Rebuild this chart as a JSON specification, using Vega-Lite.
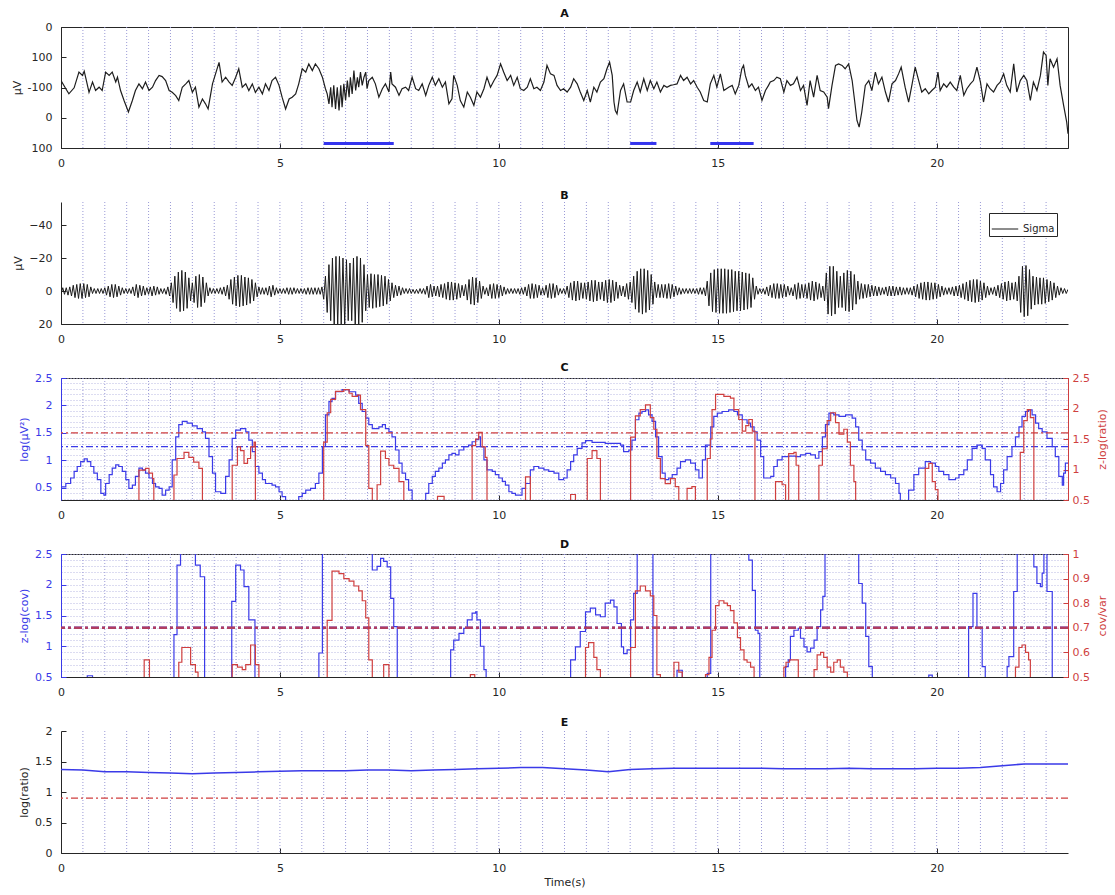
{
"$schema":"https://vega.github.io/schema/vega-lite/v6.json",
"background":"white",
"padding":{"left":10,"top":7,"right":3,"bottom":3},
"spacing":54,
"bounds":"flush",
"resolve":{"legend":{"color":"independent"}},
"config":{
 "font":"DejaVu Sans",
 "view":{"stroke":"#262626","strokeWidth":1},
 "axis":{"labelFont":"DejaVu Sans","labelFontSize":11,"labelColor":"#262626","titleFont":"DejaVu Sans","titleFontSize":11,"titleFontWeight":"normal","titleColor":"#262626","domainColor":"#262626","tickColor":"#262626","tickSize":-5,"labelPadding":14,"labelOverlap":false,"gridColor":"#9a9ad6","gridDash":[1,2],"gridWidth":1,"titlePadding":5},
 "title":{"font":"DejaVu Sans","fontSize":11,"fontWeight":"bold","color":"#111111","offset":0}
},
"datasets":{
"vg":[{"t":0.5},{"t":1},{"t":1.5},{"t":2},{"t":2.5},{"t":3},{"t":3.5},{"t":4},{"t":4.5},{"t":5},{"t":5.5},{"t":6},{"t":6.5},{"t":7},{"t":7.5},{"t":8},{"t":8.5},{"t":9},{"t":9.5},{"t":10},{"t":10.5},{"t":11},{"t":11.5},{"t":12},{"t":12.5},{"t":13},{"t":13.5},{"t":14},{"t":14.5},{"t":15},{"t":15.5},{"t":16},{"t":16.5},{"t":17},{"t":17.5},{"t":18},{"t":18.5},{"t":19},{"t":19.5},{"t":20},{"t":20.5},{"t":21},{"t":21.5},{"t":22},{"t":22.5}],
"eeg":[{"t":0,"v":23},{"t":0.11,"v":-4},{"t":0.18,"v":-21},{"t":0.3,"v":-1},{"t":0.41,"v":51},{"t":0.49,"v":40},{"t":0.53,"v":54},{"t":0.58,"v":23},{"t":0.64,"v":-16},{"t":0.72,"v":18},{"t":0.79,"v":-10},{"t":0.87,"v":1},{"t":0.94,"v":-10},{"t":1.02,"v":51},{"t":1.1,"v":40},{"t":1.17,"v":51},{"t":1.25,"v":18},{"t":1.29,"v":34},{"t":1.36,"v":-10},{"t":1.44,"v":-43},{"t":1.54,"v":-81},{"t":1.63,"v":-43},{"t":1.7,"v":-10},{"t":1.78,"v":12},{"t":1.86,"v":-4},{"t":1.93,"v":18},{"t":2.01,"v":-10},{"t":2.09,"v":1},{"t":2.16,"v":23},{"t":2.24,"v":40},{"t":2.31,"v":36},{"t":2.39,"v":23},{"t":2.47,"v":-10},{"t":2.54,"v":-16},{"t":2.62,"v":-27},{"t":2.69,"v":-43},{"t":2.77,"v":1},{"t":2.85,"v":12},{"t":2.92,"v":23},{"t":3,"v":-16},{"t":3.07,"v":1},{"t":3.15,"v":-65},{"t":3.23,"v":-38},{"t":3.3,"v":-54},{"t":3.36,"v":-71},{"t":3.46,"v":12},{"t":3.53,"v":45},{"t":3.61,"v":83},{"t":3.68,"v":18},{"t":3.76,"v":34},{"t":3.84,"v":18},{"t":3.91,"v":7},{"t":3.99,"v":34},{"t":4.06,"v":62},{"t":4.14,"v":1},{"t":4.22,"v":12},{"t":4.29,"v":-10},{"t":4.37,"v":12},{"t":4.44,"v":-16},{"t":4.52,"v":1},{"t":4.6,"v":-21},{"t":4.67,"v":12},{"t":4.75,"v":-10},{"t":4.82,"v":23},{"t":4.9,"v":34},{"t":4.98,"v":7},{"t":5.05,"v":-32},{"t":5.13,"v":-71},{"t":5.21,"v":-38},{"t":5.28,"v":-32},{"t":5.36,"v":-21},{"t":5.43,"v":12},{"t":5.51,"v":62},{"t":5.59,"v":51},{"t":5.66,"v":78},{"t":5.74,"v":56},{"t":5.81,"v":78},{"t":5.89,"v":62},{"t":5.97,"v":34},{"t":6.04,"v":-4},{"t":6.08,"v":-21},{"t":6.12,"v":-54},{"t":6.16,"v":1},{"t":6.19,"v":-65},{"t":6.23,"v":7},{"t":6.27,"v":-71},{"t":6.31,"v":1},{"t":6.35,"v":-76},{"t":6.39,"v":7},{"t":6.42,"v":-65},{"t":6.46,"v":12},{"t":6.5,"v":-43},{"t":6.54,"v":23},{"t":6.58,"v":-32},{"t":6.61,"v":34},{"t":6.65,"v":-21},{"t":6.69,"v":56},{"t":6.73,"v":-10},{"t":6.77,"v":34},{"t":6.8,"v":1},{"t":6.84,"v":51},{"t":6.88,"v":7},{"t":6.92,"v":34},{"t":6.96,"v":51},{"t":6.99,"v":-4},{"t":7.03,"v":23},{"t":7.11,"v":34},{"t":7.18,"v":12},{"t":7.26,"v":-32},{"t":7.34,"v":-4},{"t":7.41,"v":12},{"t":7.49,"v":-15},{"t":7.53,"v":51},{"t":7.56,"v":12},{"t":7.64,"v":1},{"t":7.72,"v":-26},{"t":7.79,"v":-4},{"t":7.87,"v":1},{"t":7.94,"v":-10},{"t":8.02,"v":34},{"t":8.1,"v":-4},{"t":8.17,"v":-10},{"t":8.25,"v":12},{"t":8.33,"v":-26},{"t":8.4,"v":7},{"t":8.48,"v":34},{"t":8.55,"v":7},{"t":8.63,"v":29},{"t":8.71,"v":1},{"t":8.78,"v":18},{"t":8.86,"v":-54},{"t":8.93,"v":-37},{"t":8.97,"v":40},{"t":9.05,"v":7},{"t":9.12,"v":-43},{"t":9.2,"v":-65},{"t":9.28,"v":-15},{"t":9.35,"v":-32},{"t":9.43,"v":-59},{"t":9.5,"v":-15},{"t":9.58,"v":-32},{"t":9.66,"v":-4},{"t":9.73,"v":34},{"t":9.81,"v":1},{"t":9.89,"v":23},{"t":9.96,"v":40},{"t":10.04,"v":78},{"t":10.11,"v":51},{"t":10.19,"v":23},{"t":10.27,"v":40},{"t":10.34,"v":7},{"t":10.42,"v":34},{"t":10.49,"v":-4},{"t":10.57,"v":-10},{"t":10.65,"v":1},{"t":10.72,"v":29},{"t":10.8,"v":-4},{"t":10.87,"v":1},{"t":10.95,"v":-10},{"t":11.03,"v":18},{"t":11.1,"v":73},{"t":11.18,"v":45},{"t":11.26,"v":40},{"t":11.33,"v":7},{"t":11.41,"v":-10},{"t":11.48,"v":-4},{"t":11.56,"v":-15},{"t":11.64,"v":1},{"t":11.71,"v":29},{"t":11.79,"v":12},{"t":11.86,"v":-15},{"t":11.94,"v":-43},{"t":12.02,"v":-10},{"t":12.09,"v":-48},{"t":12.17,"v":1},{"t":12.24,"v":-15},{"t":12.32,"v":18},{"t":12.4,"v":29},{"t":12.47,"v":62},{"t":12.53,"v":84},{"t":12.59,"v":40},{"t":12.63,"v":-48},{"t":12.66,"v":-76},{"t":12.7,"v":-87},{"t":12.78,"v":-10},{"t":12.85,"v":12},{"t":12.93,"v":-48},{"t":13.01,"v":-48},{"t":13.08,"v":-10},{"t":13.16,"v":18},{"t":13.23,"v":-15},{"t":13.31,"v":29},{"t":13.39,"v":-10},{"t":13.46,"v":23},{"t":13.54,"v":-4},{"t":13.61,"v":18},{"t":13.69,"v":-15},{"t":13.77,"v":7},{"t":13.84,"v":1},{"t":13.92,"v":7},{"t":13.99,"v":9},{"t":14.07,"v":12},{"t":14.15,"v":40},{"t":14.22,"v":23},{"t":14.3,"v":34},{"t":14.38,"v":12},{"t":14.45,"v":23},{"t":14.53,"v":1},{"t":14.6,"v":-15},{"t":14.68,"v":-43},{"t":14.76,"v":-48},{"t":14.83,"v":12},{"t":14.91,"v":40},{"t":14.98,"v":1},{"t":15.06,"v":45},{"t":15.14,"v":-10},{"t":15.25,"v":1},{"t":15.33,"v":7},{"t":15.4,"v":-21},{"t":15.48,"v":7},{"t":15.55,"v":62},{"t":15.59,"v":73},{"t":15.63,"v":40},{"t":15.71,"v":1},{"t":15.78,"v":12},{"t":15.86,"v":-10},{"t":15.93,"v":1},{"t":16.01,"v":-43},{"t":16.09,"v":-10},{"t":16.16,"v":7},{"t":16.2,"v":18},{"t":16.28,"v":23},{"t":16.35,"v":34},{"t":16.43,"v":29},{"t":16.51,"v":-15},{"t":16.58,"v":23},{"t":16.66,"v":7},{"t":16.73,"v":12},{"t":16.81,"v":34},{"t":16.89,"v":-10},{"t":16.96,"v":7},{"t":17.04,"v":-59},{"t":17.11,"v":23},{"t":17.19,"v":-32},{"t":17.27,"v":40},{"t":17.34,"v":-10},{"t":17.42,"v":-15},{"t":17.5,"v":-32},{"t":17.53,"v":-70},{"t":17.61,"v":7},{"t":17.69,"v":73},{"t":17.76,"v":78},{"t":17.84,"v":73},{"t":17.91,"v":62},{"t":17.99,"v":78},{"t":18.07,"v":23},{"t":18.13,"v":-48},{"t":18.18,"v":-109},{"t":18.23,"v":-131},{"t":18.29,"v":-81},{"t":18.37,"v":7},{"t":18.45,"v":23},{"t":18.52,"v":-10},{"t":18.6,"v":51},{"t":18.67,"v":12},{"t":18.75,"v":34},{"t":18.83,"v":-15},{"t":18.9,"v":-48},{"t":18.98,"v":12},{"t":19.06,"v":23},{"t":19.13,"v":45},{"t":19.19,"v":67},{"t":19.28,"v":1},{"t":19.36,"v":-48},{"t":19.44,"v":12},{"t":19.51,"v":67},{"t":19.59,"v":23},{"t":19.66,"v":-15},{"t":19.74,"v":-4},{"t":19.82,"v":-21},{"t":19.89,"v":-10},{"t":19.97,"v":1},{"t":20.03,"v":51},{"t":20.08,"v":-10},{"t":20.16,"v":12},{"t":20.23,"v":1},{"t":20.31,"v":18},{"t":20.39,"v":1},{"t":20.46,"v":-10},{"t":20.54,"v":40},{"t":20.62,"v":-26},{"t":20.69,"v":-4},{"t":20.77,"v":12},{"t":20.84,"v":23},{"t":20.92,"v":67},{"t":21,"v":18},{"t":21.07,"v":-48},{"t":21.15,"v":12},{"t":21.22,"v":-4},{"t":21.3,"v":-15},{"t":21.38,"v":7},{"t":21.45,"v":18},{"t":21.53,"v":45},{"t":21.6,"v":7},{"t":21.68,"v":-15},{"t":21.76,"v":78},{"t":21.83,"v":-15},{"t":21.91,"v":23},{"t":21.99,"v":40},{"t":22.06,"v":23},{"t":22.14,"v":-43},{"t":22.21,"v":18},{"t":22.29,"v":-10},{"t":22.37,"v":40},{"t":22.44,"v":117},{"t":22.5,"v":106},{"t":22.54,"v":7},{"t":22.59,"v":95},{"t":22.67,"v":67},{"t":22.75,"v":95},{"t":22.82,"v":7},{"t":22.9,"v":-59},{"t":22.97,"v":-114},{"t":23,"v":-153}],
"bars":[{"s":6.0,"e":7.6,"v":-185},{"s":13.0,"e":13.6,"v":-185},{"s":14.83,"e":15.82,"v":-185}],
"sig":[{"t":0,"v":2},{"t":0.04,"v":-2},{"t":0.08,"v":2},{"t":0.12,"v":-2},{"t":0.16,"v":2.5},{"t":0.2,"v":-2.5},{"t":0.24,"v":3},{"t":0.28,"v":-3.5},{"t":0.32,"v":4},{"t":0.36,"v":-4},{"t":0.4,"v":4.5},{"t":0.44,"v":-4.5},{"t":0.48,"v":4.5},{"t":0.52,"v":-4.5},{"t":0.56,"v":4},{"t":0.6,"v":-4},{"t":0.64,"v":3.5},{"t":0.68,"v":-2.5},{"t":0.72,"v":1.5},{"t":0.76,"v":-1.5},{"t":0.8,"v":1.5},{"t":0.84,"v":-1.5},{"t":0.88,"v":1.5},{"t":0.92,"v":-1.5},{"t":0.96,"v":1.5},
{"t":1,"v":-2},{"t":1.04,"v":2.5},{"t":1.08,"v":-3},{"t":1.12,"v":3.5},{"t":1.16,"v":-4},{"t":1.2,"v":4},{"t":1.24,"v":-4},{"t":1.28,"v":3.5},{"t":1.32,"v":-3},{"t":1.36,"v":2.5},{"t":1.4,"v":-2},{"t":1.44,"v":1.5},{"t":1.48,"v":-1.5},{"t":1.52,"v":1.5},{"t":1.56,"v":-1.5},{"t":1.6,"v":1.5},{"t":1.64,"v":-2.5},{"t":1.68,"v":3},{"t":1.72,"v":-4},{"t":1.76,"v":4},{"t":1.8,"v":-3.5},{"t":1.84,"v":3},{"t":1.88,"v":-3},{"t":1.92,"v":2.5},{"t":1.96,"v":-2},
{"t":2,"v":2},{"t":2.04,"v":-2.5},{"t":2.08,"v":3},{"t":2.12,"v":-3},{"t":2.16,"v":2.5},{"t":2.2,"v":-2.5},{"t":2.24,"v":2},{"t":2.28,"v":-1.5},{"t":2.32,"v":1.5},{"t":2.36,"v":-1.5},{"t":2.4,"v":2},{"t":2.44,"v":-2.5},{"t":2.48,"v":3},{"t":2.52,"v":-5},{"t":2.56,"v":7},{"t":2.6,"v":-9},{"t":2.64,"v":10.5},{"t":2.68,"v":-11.5},{"t":2.72,"v":12.5},{"t":2.76,"v":-12.5},{"t":2.8,"v":12},{"t":2.84,"v":-11.5},{"t":2.88,"v":10.5},{"t":2.92,"v":-8},{"t":2.96,"v":6},
{"t":3,"v":-5},{"t":3.04,"v":7},{"t":3.08,"v":-9},{"t":3.12,"v":10},{"t":3.16,"v":-10},{"t":3.2,"v":9.5},{"t":3.24,"v":-8.5},{"t":3.28,"v":7},{"t":3.32,"v":-5},{"t":3.36,"v":3},{"t":3.4,"v":-2},{"t":3.44,"v":1.5},{"t":3.48,"v":-1.5},{"t":3.52,"v":1.5},{"t":3.56,"v":-1.5},{"t":3.6,"v":1.5},{"t":3.64,"v":-2},{"t":3.68,"v":2},{"t":3.72,"v":-2.5},{"t":3.76,"v":3},{"t":3.8,"v":-3.5},{"t":3.84,"v":5},{"t":3.88,"v":-7},{"t":3.92,"v":8},{"t":3.96,"v":-8.5},
{"t":4,"v":9},{"t":4.04,"v":-9.5},{"t":4.08,"v":9.5},{"t":4.12,"v":-9.5},{"t":4.16,"v":9},{"t":4.2,"v":-8.5},{"t":4.24,"v":8.5},{"t":4.28,"v":-8},{"t":4.32,"v":7.5},{"t":4.36,"v":-7},{"t":4.4,"v":6},{"t":4.44,"v":-5},{"t":4.48,"v":3.5},{"t":4.52,"v":-2.5},{"t":4.56,"v":2},{"t":4.6,"v":-2},{"t":4.64,"v":2},{"t":4.68,"v":-2},{"t":4.72,"v":2.5},{"t":4.76,"v":-3},{"t":4.8,"v":3.5},{"t":4.84,"v":-3.5},{"t":4.88,"v":2.5},{"t":4.92,"v":-2},{"t":4.96,"v":1.5},
{"t":5,"v":-1.5},{"t":5.04,"v":1.5},{"t":5.08,"v":-1.5},{"t":5.12,"v":1.5},{"t":5.16,"v":-2},{"t":5.2,"v":2},{"t":5.24,"v":-2},{"t":5.28,"v":2},{"t":5.32,"v":-2},{"t":5.36,"v":1.5},{"t":5.4,"v":-1.5},{"t":5.44,"v":1.5},{"t":5.48,"v":-1.5},{"t":5.52,"v":1.5},{"t":5.56,"v":-1.5},{"t":5.6,"v":2},{"t":5.64,"v":-2},{"t":5.68,"v":2},{"t":5.72,"v":-2},{"t":5.76,"v":2},{"t":5.8,"v":-2},{"t":5.84,"v":2},{"t":5.88,"v":-2},{"t":5.92,"v":2},{"t":5.96,"v":-2.5},
{"t":6,"v":5},{"t":6.04,"v":-9},{"t":6.08,"v":13},{"t":6.12,"v":-16},{"t":6.16,"v":18},{"t":6.2,"v":-20},{"t":6.24,"v":21},{"t":6.28,"v":-21},{"t":6.32,"v":21},{"t":6.36,"v":-21},{"t":6.4,"v":20.5},{"t":6.44,"v":-20},{"t":6.48,"v":20},{"t":6.52,"v":-19},{"t":6.56,"v":18},{"t":6.6,"v":-17},{"t":6.64,"v":18},{"t":6.68,"v":-20},{"t":6.72,"v":21},{"t":6.76,"v":-21},{"t":6.8,"v":21},{"t":6.84,"v":-20},{"t":6.88,"v":19},{"t":6.92,"v":-16},{"t":6.96,"v":12},
{"t":7,"v":-10},{"t":7.04,"v":10},{"t":7.08,"v":-10.5},{"t":7.12,"v":10.5},{"t":7.16,"v":-10},{"t":7.2,"v":10},{"t":7.24,"v":-10},{"t":7.28,"v":9.5},{"t":7.32,"v":-9.5},{"t":7.36,"v":9},{"t":7.4,"v":-9},{"t":7.44,"v":8},{"t":7.48,"v":-7},{"t":7.52,"v":6},{"t":7.56,"v":-5},{"t":7.6,"v":4},{"t":7.64,"v":-3.5},{"t":7.68,"v":3},{"t":7.72,"v":-3},{"t":7.76,"v":2.5},{"t":7.8,"v":-2},{"t":7.84,"v":1.5},{"t":7.88,"v":-1.5},{"t":7.92,"v":1.5},{"t":7.96,"v":-1.5},
{"t":8,"v":1.5},{"t":8.04,"v":-1},{"t":8.08,"v":1.5},{"t":8.12,"v":-1},{"t":8.16,"v":1.5},{"t":8.2,"v":-1.5},{"t":8.24,"v":1.5},{"t":8.28,"v":-1.5},{"t":8.32,"v":2},{"t":8.36,"v":-3},{"t":8.4,"v":4},{"t":8.44,"v":-4},{"t":8.48,"v":3.5},{"t":8.52,"v":-3},{"t":8.56,"v":3},{"t":8.6,"v":-3},{"t":8.64,"v":3.5},{"t":8.68,"v":-4},{"t":8.72,"v":4},{"t":8.76,"v":-4.5},{"t":8.8,"v":5},{"t":8.84,"v":-5.5},{"t":8.88,"v":5.5},{"t":8.92,"v":-5.5},{"t":8.96,"v":5.5},
{"t":9,"v":-5},{"t":9.04,"v":5},{"t":9.08,"v":-4.5},{"t":9.12,"v":4},{"t":9.16,"v":-3.5},{"t":9.2,"v":3},{"t":9.24,"v":-4},{"t":9.28,"v":5.5},{"t":9.32,"v":-7},{"t":9.36,"v":8},{"t":9.4,"v":-8.5},{"t":9.44,"v":8.5},{"t":9.48,"v":-8},{"t":9.52,"v":7},{"t":9.56,"v":-6},{"t":9.6,"v":4.5},{"t":9.64,"v":-3},{"t":9.68,"v":2},{"t":9.72,"v":-2},{"t":9.76,"v":3},{"t":9.8,"v":-4},{"t":9.84,"v":4.5},{"t":9.88,"v":-4.5},{"t":9.92,"v":4.5},{"t":9.96,"v":-4},
{"t":10,"v":4},{"t":10.04,"v":-3.5},{"t":10.08,"v":3},{"t":10.12,"v":-2.5},{"t":10.16,"v":2},{"t":10.2,"v":-1.5},{"t":10.24,"v":1.5},{"t":10.28,"v":-1.5},{"t":10.32,"v":1.5},{"t":10.36,"v":-1.5},{"t":10.4,"v":1.5},{"t":10.44,"v":-1.5},{"t":10.48,"v":2},{"t":10.52,"v":-2},{"t":10.56,"v":2},{"t":10.6,"v":-2.5},{"t":10.64,"v":3},{"t":10.68,"v":-4},{"t":10.72,"v":4.5},{"t":10.76,"v":-4.5},{"t":10.8,"v":4.5},{"t":10.84,"v":-4},{"t":10.88,"v":4},{"t":10.92,"v":-3.5},{"t":10.96,"v":2.5},
{"t":11,"v":-2},{"t":11.04,"v":2.5},{"t":11.08,"v":-3.5},{"t":11.12,"v":4},{"t":11.16,"v":-4.5},{"t":11.2,"v":4.5},{"t":11.24,"v":-4.5},{"t":11.28,"v":4},{"t":11.32,"v":-3.5},{"t":11.36,"v":2.5},{"t":11.4,"v":-1.5},{"t":11.44,"v":1.5},{"t":11.48,"v":-1.5},{"t":11.52,"v":2},{"t":11.56,"v":-3},{"t":11.6,"v":4},{"t":11.64,"v":-5},{"t":11.68,"v":5.5},{"t":11.72,"v":-6},{"t":11.76,"v":6},{"t":11.8,"v":-6},{"t":11.84,"v":5.5},{"t":11.88,"v":-5},{"t":11.92,"v":4.5},{"t":11.96,"v":-5},
{"t":12,"v":5},{"t":12.04,"v":-5.5},{"t":12.08,"v":6},{"t":12.12,"v":-6.5},{"t":12.16,"v":6.5},{"t":12.2,"v":-6.5},{"t":12.24,"v":6},{"t":12.28,"v":-5.5},{"t":12.32,"v":5},{"t":12.36,"v":-5.5},{"t":12.4,"v":6},{"t":12.44,"v":-6.5},{"t":12.48,"v":7},{"t":12.52,"v":-7},{"t":12.56,"v":7},{"t":12.6,"v":-6.5},{"t":12.64,"v":6},{"t":12.68,"v":-5.5},{"t":12.72,"v":4.5},{"t":12.76,"v":-3.5},{"t":12.8,"v":3},{"t":12.84,"v":-3},{"t":12.88,"v":3.5},{"t":12.92,"v":-4.5},{"t":12.96,"v":5},
{"t":13,"v":-5.5},{"t":13.04,"v":7},{"t":13.08,"v":-9},{"t":13.12,"v":11},{"t":13.16,"v":-12},{"t":13.2,"v":13},{"t":13.24,"v":-13.5},{"t":13.28,"v":14},{"t":13.32,"v":-13.5},{"t":13.36,"v":13},{"t":13.4,"v":-12.5},{"t":13.44,"v":11.5},{"t":13.48,"v":-10},{"t":13.52,"v":8},{"t":13.56,"v":-5.5},{"t":13.6,"v":4},{"t":13.64,"v":-4},{"t":13.68,"v":4},{"t":13.72,"v":-4},{"t":13.76,"v":4},{"t":13.8,"v":-4},{"t":13.84,"v":4.5},{"t":13.88,"v":-4.5},{"t":13.92,"v":4.5},{"t":13.96,"v":-4},
{"t":14,"v":3.5},{"t":14.04,"v":-3},{"t":14.08,"v":2.5},{"t":14.12,"v":-2},{"t":14.16,"v":2},{"t":14.2,"v":-1.5},{"t":14.24,"v":1.5},{"t":14.28,"v":-1.5},{"t":14.32,"v":1.5},{"t":14.36,"v":-1.5},{"t":14.4,"v":1.5},{"t":14.44,"v":-1.5},{"t":14.48,"v":1.5},{"t":14.52,"v":-1.5},{"t":14.56,"v":2},{"t":14.6,"v":-2},{"t":14.64,"v":2},{"t":14.68,"v":-2},{"t":14.72,"v":3},{"t":14.76,"v":-6},{"t":14.8,"v":9},{"t":14.84,"v":-11},{"t":14.88,"v":12.5},{"t":14.92,"v":-13},{"t":14.96,"v":13},
{"t":15,"v":-13.5},{"t":15.04,"v":13.5},{"t":15.08,"v":-13.5},{"t":15.12,"v":13.5},{"t":15.16,"v":-13.5},{"t":15.2,"v":13.5},{"t":15.24,"v":-13},{"t":15.28,"v":13},{"t":15.32,"v":-13},{"t":15.36,"v":12.5},{"t":15.4,"v":-12},{"t":15.44,"v":12},{"t":15.48,"v":-12},{"t":15.52,"v":12},{"t":15.56,"v":-11.5},{"t":15.6,"v":11.5},{"t":15.64,"v":-11},{"t":15.68,"v":11},{"t":15.72,"v":-10.5},{"t":15.76,"v":10},{"t":15.8,"v":-8},{"t":15.84,"v":5},{"t":15.88,"v":-3},{"t":15.92,"v":2},{"t":15.96,"v":-1.5},
{"t":16,"v":1.5},{"t":16.04,"v":-1.5},{"t":16.08,"v":2},{"t":16.12,"v":-2.5},{"t":16.16,"v":3},{"t":16.2,"v":-3.5},{"t":16.24,"v":4},{"t":16.28,"v":-4.5},{"t":16.32,"v":4.5},{"t":16.36,"v":-4.5},{"t":16.4,"v":4.5},{"t":16.44,"v":-4},{"t":16.48,"v":4},{"t":16.52,"v":-4},{"t":16.56,"v":3.5},{"t":16.6,"v":-3},{"t":16.64,"v":2.5},{"t":16.68,"v":-2},{"t":16.72,"v":3},{"t":16.76,"v":-4},{"t":16.8,"v":5},{"t":16.84,"v":-5},{"t":16.88,"v":4.5},{"t":16.92,"v":-4},{"t":16.96,"v":4},
{"t":17,"v":-4},{"t":17.04,"v":4.5},{"t":17.08,"v":-5},{"t":17.12,"v":5.5},{"t":17.16,"v":-6},{"t":17.2,"v":6},{"t":17.24,"v":-5.5},{"t":17.28,"v":5},{"t":17.32,"v":-4.5},{"t":17.36,"v":4},{"t":17.4,"v":-3},{"t":17.44,"v":6},{"t":17.48,"v":-11},{"t":17.52,"v":14},{"t":17.56,"v":-15},{"t":17.6,"v":15},{"t":17.64,"v":-15},{"t":17.68,"v":14},{"t":17.72,"v":-12},{"t":17.76,"v":10},{"t":17.8,"v":-9},{"t":17.84,"v":10},{"t":17.88,"v":-11},{"t":17.92,"v":12},{"t":17.96,"v":-12.5},
{"t":18,"v":12.5},{"t":18.04,"v":-12},{"t":18.08,"v":11.5},{"t":18.12,"v":-10},{"t":18.16,"v":8},{"t":18.2,"v":-6},{"t":18.24,"v":5},{"t":18.28,"v":-4.5},{"t":18.32,"v":4.5},{"t":18.36,"v":-4},{"t":18.4,"v":4},{"t":18.44,"v":-4},{"t":18.48,"v":3.5},{"t":18.52,"v":-3.5},{"t":18.56,"v":3},{"t":18.6,"v":-3},{"t":18.64,"v":3},{"t":18.68,"v":-2.5},{"t":18.72,"v":2.5},{"t":18.76,"v":-2},{"t":18.8,"v":2},{"t":18.84,"v":-2.5},{"t":18.88,"v":3},{"t":18.92,"v":-3},{"t":18.96,"v":3},
{"t":19,"v":-3},{"t":19.04,"v":3},{"t":19.08,"v":-2.5},{"t":19.12,"v":2.5},{"t":19.16,"v":-2.5},{"t":19.2,"v":2.5},{"t":19.24,"v":-2},{"t":19.28,"v":2},{"t":19.32,"v":-2},{"t":19.36,"v":2},{"t":19.4,"v":-2},{"t":19.44,"v":2.5},{"t":19.48,"v":-3},{"t":19.52,"v":3.5},{"t":19.56,"v":-4},{"t":19.6,"v":4.5},{"t":19.64,"v":-5},{"t":19.68,"v":5},{"t":19.72,"v":-5.5},{"t":19.76,"v":5.5},{"t":19.8,"v":-5.5},{"t":19.84,"v":5.5},{"t":19.88,"v":-5},{"t":19.92,"v":5},{"t":19.96,"v":-5},
{"t":20,"v":4.5},{"t":20.04,"v":-4},{"t":20.08,"v":3.5},{"t":20.12,"v":-3},{"t":20.16,"v":2.5},{"t":20.2,"v":-2},{"t":20.24,"v":2},{"t":20.28,"v":-2},{"t":20.32,"v":2},{"t":20.36,"v":-2.5},{"t":20.4,"v":3},{"t":20.44,"v":-3},{"t":20.48,"v":3},{"t":20.52,"v":-3.5},{"t":20.56,"v":4},{"t":20.6,"v":-4.5},{"t":20.64,"v":5},{"t":20.68,"v":-5.5},{"t":20.72,"v":6},{"t":20.76,"v":-6.5},{"t":20.8,"v":6.5},{"t":20.84,"v":-7},{"t":20.88,"v":7},{"t":20.92,"v":-7},{"t":20.96,"v":6.5},
{"t":21,"v":-6},{"t":21.04,"v":5.5},{"t":21.08,"v":-5},{"t":21.12,"v":4},{"t":21.16,"v":-3},{"t":21.2,"v":2.5},{"t":21.24,"v":-2},{"t":21.28,"v":2},{"t":21.32,"v":-2.5},{"t":21.36,"v":3},{"t":21.4,"v":-3.5},{"t":21.44,"v":4},{"t":21.48,"v":-4.5},{"t":21.52,"v":5},{"t":21.56,"v":-5.5},{"t":21.6,"v":6},{"t":21.64,"v":-6},{"t":21.68,"v":5.5},{"t":21.72,"v":-5},{"t":21.76,"v":5},{"t":21.8,"v":-5.5},{"t":21.84,"v":6},{"t":21.88,"v":-9},{"t":21.92,"v":13},{"t":21.96,"v":-15},
{"t":22,"v":15.5},{"t":22.04,"v":-15.5},{"t":22.08,"v":15},{"t":22.12,"v":-13},{"t":22.16,"v":11},{"t":22.2,"v":-9},{"t":22.24,"v":8.5},{"t":22.28,"v":-8.5},{"t":22.32,"v":8},{"t":22.36,"v":-8},{"t":22.4,"v":8},{"t":22.44,"v":-8},{"t":22.48,"v":7.5},{"t":22.52,"v":-7},{"t":22.56,"v":6.5},{"t":22.6,"v":-6},{"t":22.64,"v":5.5},{"t":22.68,"v":-5},{"t":22.72,"v":4},{"t":22.76,"v":-3},{"t":22.8,"v":2.5},{"t":22.84,"v":-2},{"t":22.88,"v":1.5},{"t":22.92,"v":-1.5},{"t":22.96,"v":1.5},{"t":23,"v":-1}],
"cb":[{"t":0,"v":0.52},{"t":0.11,"v":0.58},{"t":0.22,"v":0.68},{"t":0.3,"v":0.8},{"t":0.37,"v":0.89},{"t":0.45,"v":0.98},{"t":0.53,"v":1.03},{"t":0.6,"v":0.98},{"t":0.68,"v":0.89},{"t":0.75,"v":0.77},{"t":0.83,"v":0.65},{"t":0.91,"v":0.4},{"t":0.98,"v":0.37},{"t":1.02,"v":0.58},{"t":1.1,"v":0.74},{"t":1.17,"v":0.86},{"t":1.25,"v":0.92},{"t":1.32,"v":0.89},{"t":1.4,"v":0.8},{"t":1.48,"v":0.65},{"t":1.55,"v":0.49},{"t":1.63,"v":0.55},{"t":1.7,"v":0.71},{"t":1.78,"v":0.86},{"t":1.86,"v":0.83},{"t":1.93,"v":0.77},{"t":2.01,"v":0.68},{"t":2.09,"v":0.58},{"t":2.16,"v":0.52},{"t":2.24,"v":0.49},{"t":2.31,"v":0.37},{"t":2.39,"v":0.46},{"t":2.47,"v":0.52},{"t":2.54,"v":1.01},{"t":2.62,"v":1.43},{"t":2.69,"v":1.65},{"t":2.77,"v":1.71},{"t":2.88,"v":1.68},{"t":3,"v":1.63},{"t":3.11,"v":1.58},{"t":3.23,"v":1.52},{"t":3.3,"v":1.4},{"t":3.38,"v":1.07},{"t":3.46,"v":0.77},{"t":3.53,"v":0.43},{"t":3.65,"v":0.4},{"t":3.76,"v":0.71},{"t":3.84,"v":1.01},{"t":3.91,"v":1.4},{"t":3.99,"v":1.55},{"t":4.1,"v":1.58},{"t":4.22,"v":1.52},{"t":4.29,"v":1.37},{"t":4.37,"v":1.16},{"t":4.44,"v":0.89},{"t":4.52,"v":0.77},{"t":4.6,"v":0.65},{"t":4.67,"v":0.58},{"t":4.82,"v":0.55},{"t":4.9,"v":0.52},{"t":4.98,"v":0.43},{"t":5.05,"v":0.34},{"t":5.13,"v":0.1},{"t":5.43,"v":0.34},{"t":5.51,"v":0.4},{"t":5.59,"v":0.46},{"t":5.7,"v":0.49},{"t":5.81,"v":0.58},{"t":5.89,"v":0.77},{"t":5.97,"v":1.25},{"t":6.04,"v":1.83},{"t":6.12,"v":2.07},{"t":6.19,"v":2.13},{"t":6.27,"v":2.25},{"t":6.42,"v":2.29},{"t":6.58,"v":2.25},{"t":6.73,"v":2.19},{"t":6.8,"v":2.04},{"t":6.88,"v":1.89},{"t":6.96,"v":1.77},{"t":7.03,"v":1.65},{"t":7.11,"v":1.58},{"t":7.26,"v":1.61},{"t":7.34,"v":1.65},{"t":7.41,"v":1.58},{"t":7.49,"v":1.52},{"t":7.56,"v":1.43},{"t":7.64,"v":1.19},{"t":7.72,"v":0.95},{"t":7.79,"v":0.77},{"t":7.87,"v":0.65},{"t":7.94,"v":0.46},{"t":8.02,"v":0.1},{"t":8.33,"v":0.4},{"t":8.4,"v":0.58},{"t":8.48,"v":0.71},{"t":8.55,"v":0.8},{"t":8.63,"v":0.86},{"t":8.71,"v":0.95},{"t":8.78,"v":1.01},{"t":8.86,"v":1.1},{"t":8.93,"v":1.13},{"t":9.01,"v":1.1},{"t":9.09,"v":1.19},{"t":9.2,"v":1.25},{"t":9.31,"v":1.28},{"t":9.39,"v":1.34},{"t":9.47,"v":1.38},{"t":9.54,"v":1.43},{"t":9.58,"v":1.25},{"t":9.66,"v":1.01},{"t":9.73,"v":0.83},{"t":9.85,"v":0.8},{"t":9.92,"v":0.74},{"t":10,"v":0.68},{"t":10.08,"v":0.62},{"t":10.15,"v":0.55},{"t":10.23,"v":0.43},{"t":10.3,"v":0.4},{"t":10.38,"v":0.37},{"t":10.53,"v":0.49},{"t":10.61,"v":0.58},{"t":10.72,"v":0.83},{"t":10.8,"v":0.89},{"t":10.91,"v":0.86},{"t":11.03,"v":0.83},{"t":11.14,"v":0.8},{"t":11.26,"v":0.77},{"t":11.37,"v":0.65},{"t":11.48,"v":0.68},{"t":11.56,"v":0.83},{"t":11.64,"v":0.98},{"t":11.71,"v":1.1},{"t":11.79,"v":1.22},{"t":11.9,"v":1.32},{"t":11.98,"v":1.36},{"t":12.13,"v":1.33},{"t":12.43,"v":1.31},{"t":12.66,"v":1.31},{"t":12.78,"v":1.28},{"t":12.85,"v":1.16},{"t":12.97,"v":1.19},{"t":13.04,"v":1.37},{"t":13.12,"v":1.74},{"t":13.2,"v":1.86},{"t":13.27,"v":1.89},{"t":13.35,"v":1.92},{"t":13.42,"v":1.83},{"t":13.5,"v":1.71},{"t":13.58,"v":1.43},{"t":13.65,"v":1.07},{"t":13.73,"v":0.77},{"t":13.8,"v":0.65},{"t":13.88,"v":0.68},{"t":13.96,"v":0.74},{"t":14.07,"v":0.86},{"t":14.15,"v":0.98},{"t":14.26,"v":1.01},{"t":14.38,"v":0.95},{"t":14.49,"v":0.83},{"t":14.57,"v":0.68},{"t":14.65,"v":1.01},{"t":14.72,"v":1.28},{"t":14.84,"v":1.61},{"t":14.91,"v":1.8},{"t":14.99,"v":1.86},{"t":15.1,"v":1.89},{"t":15.25,"v":1.92},{"t":15.37,"v":1.89},{"t":15.45,"v":1.83},{"t":15.56,"v":1.74},{"t":15.67,"v":1.68},{"t":15.75,"v":1.61},{"t":15.83,"v":1.52},{"t":15.9,"v":1.37},{"t":15.98,"v":1.07},{"t":16.05,"v":0.68},{"t":16.21,"v":0.71},{"t":16.28,"v":0.89},{"t":16.36,"v":1.01},{"t":16.47,"v":1.07},{"t":16.62,"v":1.08},{"t":16.78,"v":1.07},{"t":16.89,"v":1.1},{"t":17.01,"v":1.13},{"t":17.12,"v":1.1},{"t":17.23,"v":1.04},{"t":17.31,"v":1.16},{"t":17.39,"v":1.43},{"t":17.46,"v":1.65},{"t":17.54,"v":1.86},{"t":17.65,"v":1.83},{"t":17.77,"v":1.8},{"t":17.92,"v":1.83},{"t":18.07,"v":1.77},{"t":18.15,"v":1.61},{"t":18.22,"v":1.37},{"t":18.3,"v":1.19},{"t":18.38,"v":1.01},{"t":18.49,"v":0.95},{"t":18.6,"v":0.86},{"t":18.72,"v":0.8},{"t":18.83,"v":0.74},{"t":18.95,"v":0.68},{"t":19.06,"v":0.58},{"t":19.14,"v":0.4},{"t":19.17,"v":0.1},{"t":19.36,"v":0.46},{"t":19.48,"v":0.74},{"t":19.59,"v":0.86},{"t":19.74,"v":0.98},{"t":19.86,"v":0.95},{"t":19.97,"v":0.89},{"t":20.05,"v":0.8},{"t":20.16,"v":0.74},{"t":20.28,"v":0.65},{"t":20.43,"v":0.68},{"t":20.51,"v":0.74},{"t":20.62,"v":0.83},{"t":20.7,"v":1.01},{"t":20.81,"v":1.22},{"t":20.92,"v":1.28},{"t":21.04,"v":1.22},{"t":21.11,"v":1.01},{"t":21.23,"v":0.74},{"t":21.3,"v":0.52},{"t":21.38,"v":0.43},{"t":21.46,"v":0.58},{"t":21.53,"v":0.83},{"t":21.61,"v":1.07},{"t":21.72,"v":1.25},{"t":21.8,"v":1.43},{"t":21.88,"v":1.61},{"t":21.95,"v":1.8},{"t":22.03,"v":1.89},{"t":22.1,"v":1.92},{"t":22.18,"v":1.83},{"t":22.26,"v":1.68},{"t":22.33,"v":1.58},{"t":22.41,"v":1.52},{"t":22.52,"v":1.4},{"t":22.64,"v":1.25},{"t":22.71,"v":1.07},{"t":22.79,"v":0.71},{"t":22.87,"v":0.55},{"t":22.9,"v":0.77},{"t":22.94,"v":0.95},{"t":23,"v":0.95}],
"cr":[{"t":0,"v":0.3},{"t":1.78,"v":0.99},{"t":1.93,"v":1.02},{"t":2.01,"v":0.94},{"t":2.09,"v":0.85},{"t":2.12,"v":0.3},{"t":2.58,"v":0.91},{"t":2.65,"v":1.18},{"t":2.81,"v":1.28},{"t":2.92,"v":1.2},{"t":3.03,"v":1.12},{"t":3.15,"v":1.02},{"t":3.23,"v":0.3},{"t":3.91,"v":1.07},{"t":4.03,"v":1.37},{"t":4.1,"v":1.31},{"t":4.18,"v":1.1},{"t":4.26,"v":1.18},{"t":4.33,"v":1.37},{"t":4.41,"v":1.45},{"t":4.44,"v":0.3},{"t":6.0,"v":1.45},{"t":6.08,"v":1.93},{"t":6.16,"v":2.15},{"t":6.27,"v":2.28},{"t":6.46,"v":2.31},{"t":6.58,"v":2.25},{"t":6.65,"v":2.2},{"t":6.77,"v":2.22},{"t":6.84,"v":1.98},{"t":6.96,"v":1.39},{"t":7.03,"v":0.69},{"t":7.11,"v":0.3},{"t":7.22,"v":0.75},{"t":7.3,"v":1.3},{"t":7.41,"v":1.18},{"t":7.49,"v":1.07},{"t":7.6,"v":1.02},{"t":7.72,"v":0.8},{"t":7.83,"v":0.3},{"t":8.6,"v":0.56},{"t":8.75,"v":0.3},{"t":9.39,"v":1.39},{"t":9.47,"v":1.5},{"t":9.54,"v":1.61},{"t":9.62,"v":1.37},{"t":9.69,"v":1.2},{"t":9.73,"v":0.3},{"t":10.61,"v":0.88},{"t":10.72,"v":0.3},{"t":11.64,"v":0.59},{"t":11.75,"v":0.3},{"t":12.02,"v":1.18},{"t":12.13,"v":1.31},{"t":12.24,"v":1.18},{"t":12.32,"v":0.3},{"t":13.01,"v":1.53},{"t":13.12,"v":1.88},{"t":13.23,"v":1.98},{"t":13.35,"v":2.06},{"t":13.46,"v":1.85},{"t":13.54,"v":1.66},{"t":13.61,"v":1.18},{"t":13.69,"v":0.85},{"t":13.8,"v":0.77},{"t":13.92,"v":0.85},{"t":14.03,"v":0.72},{"t":14.11,"v":0.3},{"t":14.3,"v":0.69},{"t":14.41,"v":0.72},{"t":14.49,"v":0.3},{"t":14.76,"v":1.18},{"t":14.83,"v":1.5},{"t":14.87,"v":1.98},{"t":14.95,"v":2.23},{"t":15.14,"v":2.2},{"t":15.29,"v":2.17},{"t":15.37,"v":1.98},{"t":15.48,"v":1.82},{"t":15.56,"v":1.63},{"t":15.64,"v":1.72},{"t":15.71,"v":1.82},{"t":15.79,"v":1.63},{"t":15.85,"v":0.3},{"t":16.32,"v":0.8},{"t":16.47,"v":0.75},{"t":16.55,"v":0.3},{"t":16.62,"v":1.26},{"t":16.74,"v":1.28},{"t":16.79,"v":1.07},{"t":16.85,"v":0.3},{"t":17.31,"v":1.07},{"t":17.39,"v":1.34},{"t":17.5,"v":1.8},{"t":17.58,"v":1.93},{"t":17.69,"v":1.77},{"t":17.77,"v":1.58},{"t":17.88,"v":1.66},{"t":17.96,"v":1.45},{"t":18.03,"v":1.07},{"t":18.11,"v":0.8},{"t":18.15,"v":0.3},{"t":19.74,"v":1.02},{"t":19.82,"v":1.1},{"t":19.9,"v":0.8},{"t":19.97,"v":0.67},{"t":20.03,"v":0.3},{"t":21.91,"v":1.28},{"t":21.99,"v":1.8},{"t":22.07,"v":1.98},{"t":22.14,"v":1.85},{"t":22.22,"v":0.3},{"t":23,"v":0.3}],
"db":[{"t":0,"v":0.3},{"t":0.6,"v":0.52},{"t":0.72,"v":0.3},{"t":2.58,"v":1.19},{"t":2.65,"v":2.32},{"t":2.73,"v":2.8},{"t":3.07,"v":2.32},{"t":3.18,"v":2.13},{"t":3.28,"v":0.3},{"t":3.9,"v":1.73},{"t":3.99,"v":2.32},{"t":4.1,"v":2.24},{"t":4.18,"v":1.97},{"t":4.29,"v":1.43},{"t":4.43,"v":0.3},{"t":5.89,"v":0.89},{"t":5.97,"v":2.8},{"t":7.11,"v":2.24},{"t":7.22,"v":2.3},{"t":7.3,"v":2.43},{"t":7.37,"v":2.38},{"t":7.45,"v":2.29},{"t":7.53,"v":1.78},{"t":7.6,"v":1.32},{"t":7.68,"v":0.3},{"t":8.9,"v":0.94},{"t":8.97,"v":1.1},{"t":9.09,"v":1.21},{"t":9.2,"v":1.29},{"t":9.28,"v":1.43},{"t":9.39,"v":1.54},{"t":9.47,"v":1.56},{"t":9.5,"v":1.43},{"t":9.58,"v":1.0},{"t":9.66,"v":0.62},{"t":9.71,"v":0.3},{"t":11.64,"v":0.78},{"t":11.75,"v":0.99},{"t":11.86,"v":1.24},{"t":11.98,"v":1.56},{"t":12.09,"v":1.62},{"t":12.21,"v":1.51},{"t":12.32,"v":1.48},{"t":12.43,"v":1.7},{"t":12.55,"v":1.75},{"t":12.63,"v":1.64},{"t":12.7,"v":1.37},{"t":12.8,"v":0.99},{"t":12.85,"v":0.88},{"t":12.93,"v":0.94},{"t":13.01,"v":1.43},{"t":13.08,"v":1.86},{"t":13.16,"v":2.8},{"t":13.52,"v":0.3},{"t":14.07,"v":0.61},{"t":14.19,"v":0.3},{"t":14.76,"v":0.56},{"t":14.84,"v":2.8},{"t":15.71,"v":2.4},{"t":15.79,"v":1.91},{"t":15.86,"v":1.26},{"t":15.92,"v":1.21},{"t":15.96,"v":0.3},{"t":16.55,"v":0.67},{"t":16.61,"v":0.78},{"t":16.66,"v":1.16},{"t":16.74,"v":1.26},{"t":16.84,"v":1.29},{"t":16.89,"v":1.13},{"t":16.97,"v":0.99},{"t":17.04,"v":0.91},{"t":17.12,"v":0.97},{"t":17.2,"v":1.1},{"t":17.27,"v":1.32},{"t":17.35,"v":1.59},{"t":17.4,"v":1.81},{"t":17.45,"v":2.8},{"t":18.22,"v":2.02},{"t":18.3,"v":1.7},{"t":18.38,"v":1.16},{"t":18.45,"v":0.67},{"t":18.53,"v":0.3},{"t":19.82,"v":0.53},{"t":19.9,"v":0.3},{"t":20.73,"v":1.32},{"t":20.83,"v":1.86},{"t":20.92,"v":1.29},{"t":21.04,"v":0.67},{"t":21.11,"v":0.3},{"t":21.61,"v":0.67},{"t":21.65,"v":0.83},{"t":21.76,"v":1.89},{"t":21.84,"v":2.8},{"t":22.22,"v":2.29},{"t":22.29,"v":2.02},{"t":22.37,"v":1.97},{"t":22.41,"v":2.19},{"t":22.45,"v":2.8},{"t":22.52,"v":1.89},{"t":22.64,"v":0.3},{"t":23,"v":0.3}],
"dr":[{"t":0,"v":0.45},{"t":1.9,"v":0.57},{"t":2.02,"v":0.45},{"t":2.69,"v":0.56},{"t":2.76,"v":0.62},{"t":2.92,"v":0.62},{"t":2.96,"v":0.55},{"t":3.07,"v":0.52},{"t":3.13,"v":0.45},{"t":3.91,"v":0.55},{"t":4.03,"v":0.54},{"t":4.14,"v":0.53},{"t":4.22,"v":0.55},{"t":4.33,"v":0.63},{"t":4.44,"v":0.55},{"t":4.52,"v":0.45},{"t":6.08,"v":0.73},{"t":6.19,"v":0.93},{"t":6.35,"v":0.92},{"t":6.46,"v":0.9},{"t":6.58,"v":0.89},{"t":6.69,"v":0.87},{"t":6.8,"v":0.85},{"t":6.88,"v":0.81},{"t":6.96,"v":0.74},{"t":7.03,"v":0.57},{"t":7.11,"v":0.45},{"t":7.37,"v":0.55},{"t":7.49,"v":0.45},{"t":9.35,"v":0.51},{"t":9.45,"v":0.45},{"t":11.98,"v":0.62},{"t":12.05,"v":0.64},{"t":12.17,"v":0.58},{"t":12.24,"v":0.53},{"t":12.32,"v":0.45},{"t":13.01,"v":0.62},{"t":13.12,"v":0.85},{"t":13.23,"v":0.87},{"t":13.35,"v":0.85},{"t":13.46,"v":0.83},{"t":13.54,"v":0.75},{"t":13.61,"v":0.51},{"t":13.69,"v":0.45},{"t":14.0,"v":0.56},{"t":14.11,"v":0.52},{"t":14.19,"v":0.45},{"t":14.72,"v":0.51},{"t":14.8,"v":0.58},{"t":14.87,"v":0.69},{"t":14.95,"v":0.79},{"t":15.03,"v":0.81},{"t":15.14,"v":0.8},{"t":15.22,"v":0.79},{"t":15.29,"v":0.77},{"t":15.37,"v":0.72},{"t":15.45,"v":0.66},{"t":15.52,"v":0.61},{"t":15.6,"v":0.57},{"t":15.67,"v":0.56},{"t":15.75,"v":0.54},{"t":15.83,"v":0.45},{"t":16.51,"v":0.54},{"t":16.56,"v":0.56},{"t":16.64,"v":0.57},{"t":16.84,"v":0.45},{"t":17.2,"v":0.53},{"t":17.27,"v":0.59},{"t":17.35,"v":0.6},{"t":17.42,"v":0.58},{"t":17.5,"v":0.54},{"t":17.58,"v":0.52},{"t":17.65,"v":0.56},{"t":17.73,"v":0.57},{"t":17.8,"v":0.54},{"t":17.88,"v":0.52},{"t":17.96,"v":0.45},{"t":21.8,"v":0.54},{"t":21.88,"v":0.62},{"t":21.95,"v":0.63},{"t":22.03,"v":0.6},{"t":22.1,"v":0.57},{"t":22.14,"v":0.45},{"t":23,"v":0.45}],
"e":[{"t":0,"v":1.37},{"t":0.5,"v":1.36},{"t":1,"v":1.33},{"t":1.5,"v":1.33},{"t":2,"v":1.32},{"t":2.5,"v":1.31},{"t":3,"v":1.3},{"t":3.5,"v":1.31},{"t":4,"v":1.32},{"t":4.5,"v":1.33},{"t":5,"v":1.34},{"t":5.5,"v":1.35},{"t":6,"v":1.35},{"t":6.5,"v":1.35},{"t":7,"v":1.36},{"t":7.5,"v":1.36},{"t":8,"v":1.35},{"t":8.5,"v":1.36},{"t":9,"v":1.37},{"t":9.5,"v":1.38},{"t":10,"v":1.39},{"t":10.5,"v":1.4},{"t":11,"v":1.4},{"t":11.5,"v":1.38},{"t":12,"v":1.36},{"t":12.5,"v":1.33},{"t":13,"v":1.37},{"t":13.5,"v":1.38},{"t":14,"v":1.39},{"t":14.5,"v":1.39},{"t":15,"v":1.39},{"t":15.5,"v":1.39},{"t":16,"v":1.39},{"t":16.5,"v":1.38},{"t":17,"v":1.38},{"t":17.5,"v":1.38},{"t":18,"v":1.39},{"t":18.5,"v":1.38},{"t":19,"v":1.38},{"t":19.5,"v":1.38},{"t":20,"v":1.39},{"t":20.5,"v":1.39},{"t":21,"v":1.4},{"t":21.5,"v":1.43},{"t":22,"v":1.46},{"t":22.5,"v":1.46},{"t":23,"v":1.46}]
},
"vconcat":[
{
 "title":{"text":"A","offset":2},
 "width":1007,"height":121,
 "layer":[
  {"data":{"name":"vg"},"mark":{"type":"rule","color":"#9a9ad6","strokeDash":[1,2],"strokeWidth":1},
   "encoding":{"x":{"field":"t","type":"quantitative","scale":{"domain":[0,23],"nice":false,"zero":false},"axis":{"values":[0,5,10,15,20],"format":"d","grid":false,"title":null,"labelFlush":false}}}},
  {"data":{"name":"eeg"},"mark":{"type":"line","color":"#1e1e1e","strokeWidth":1.2,"clip":true},
   "encoding":{
    "x":{"field":"t","type":"quantitative"},
    "y":{"field":"v","type":"quantitative","scale":{"domain":[-200,200],"nice":false,"zero":false},"axis":{"values":[-200,-100,0,100,200],"tickCount":1000,"labelExpr":"datum.value == 200 ? '0' : datum.value == 100 ? '100' : datum.value == 0 ? '-100' : datum.value == -100 ? '0' : '100'","title":"µV","grid":false,"labelOverlap":false}}
   }},
  {"data":{"name":"bars"},"mark":{"type":"rule","color":"#3434ee","strokeWidth":3},
   "encoding":{
    "x":{"field":"s","type":"quantitative"},
    "x2":{"field":"e"},
    "y":{"field":"v","type":"quantitative"}
   }}
 ]
},
{
 "title":{"text":"B","offset":1},
 "width":1007,"height":122,
 "view":{"stroke":null},
 "layer":[
  {"data":{"name":"vg"},"mark":{"type":"rule","color":"#9a9ad6","strokeDash":[1,2],"strokeWidth":1},
   "encoding":{"x":{"field":"t","type":"quantitative","scale":{"domain":[0,23],"nice":false,"zero":false},"axis":{"values":[0,5,10,15,20],"format":"d","grid":false,"title":null,"labelFlush":false}}}},
  {"data":{"name":"sig"},"mark":{"type":"line","strokeWidth":1,"clip":true},
   "encoding":{
    "x":{"field":"t","type":"quantitative"},
    "y":{"field":"v","type":"quantitative","scale":{"domain":[-54,20],"reverse":true,"nice":false,"zero":false},"axis":{"values":[-40,-20,0,20],"tickCount":1000,"format":"d","title":"µV","grid":false,"labelOverlap":false}},
    "color":{"datum":"Sigma","type":"nominal","scale":{"range":["#1a1a1a"]},"legend":{"title":null,"orient":"top-right","offset":11,"strokeColor":"#262626","fillColor":"white","padding":2,"symbolType":"stroke","symbolSize":700,"symbolStrokeWidth":1,"labelFontSize":10,"labelFont":"DejaVu Sans","labelColor":"#262626"}}
   }}
 ]
},
{
 "title":{"text":"C","offset":-1},
 "width":1007,"height":122,
 "layer":[
  {"layer":[
   {"data":{"name":"vg"},"mark":{"type":"rule","color":"#9a9ad6","strokeDash":[1,2],"strokeWidth":1},
    "encoding":{"x":{"field":"t","type":"quantitative","scale":{"domain":[0,23],"nice":false,"zero":false},"axis":{"values":[0,5,10,15,20],"format":"d","grid":false,"title":null,"labelFlush":false}}}},
   {"data":{"name":"cb"},"mark":{"type":"line","interpolate":"step-after","color":"#3a3ae8","strokeWidth":1.2,"clip":true},
    "encoding":{
     "x":{"field":"t","type":"quantitative"},
     "y":{"field":"v","type":"quantitative","scale":{"domain":[0.28,2.5],"nice":false,"zero":false},"axis":{"orient":"left","values":[0.3,0.4,0.5,0.6,0.7,0.8,0.9,1,1.1,1.2,1.3,1.4,1.5,1.6,1.7,1.8,1.9,2,2.1,2.2,2.3,2.4,2.5],"tickCount":1000,"labelExpr":"abs(datum.value*2 - round(datum.value*2)) < 0.01 ? format(datum.value, '.1~f') : ''","tickOpacity":{"condition":{"test":"abs(datum.value*2 - round(datum.value*2)) < 0.01","value":1},"value":0},"grid":true,"gridColor":"#b8b8e2","title":"log(µV²)","titleColor":"#3a3ae8","labelColor":"#3a3ae8","domainColor":"#3a3ae8","tickColor":"#3a3ae8","labelOverlap":false}}
    }},
   {"data":{"values":[{"v":1.25}]},"mark":{"type":"rule","color":"#3a3ae8","strokeWidth":1.2,"strokeDash":[7,3,2,3]},
    "encoding":{"y":{"field":"v","type":"quantitative"}}}
  ]},
  {"layer":[
   {"data":{"name":"cr"},"mark":{"type":"line","interpolate":"step-after","color":"#cf3f3f","strokeWidth":1.2,"clip":true},
    "encoding":{
     "x":{"field":"t","type":"quantitative"},
     "y":{"field":"v","type":"quantitative","scale":{"domain":[0.5,2.5],"nice":false,"zero":false},"axis":{"orient":"right","values":[0.5,1,1.5,2,2.5],"tickCount":1000,"format":".1~f","grid":false,"labelPadding":9,"title":"z-log(ratio)","titleAngle":270,"titlePadding":18,"titleColor":"#cf3f3f","labelColor":"#cf3f3f","domainColor":"#cf3f3f","tickColor":"#cf3f3f","labelOverlap":false}}
    }},
   {"data":{"values":[{"v":1.6}]},"mark":{"type":"rule","color":"#cf3f3f","strokeWidth":1.2,"strokeDash":[7,3,2,3]},
    "encoding":{"y":{"field":"v","type":"quantitative"}}}
  ]}
 ],
 "resolve":{"scale":{"y":"independent"}}
},
{
 "title":{"text":"D","offset":-2},
 "width":1007,"height":123,
 "layer":[
  {"layer":[
   {"data":{"name":"vg"},"mark":{"type":"rule","color":"#9a9ad6","strokeDash":[1,2],"strokeWidth":1},
    "encoding":{"x":{"field":"t","type":"quantitative","scale":{"domain":[0,23],"nice":false,"zero":false},"axis":{"values":[0,5,10,15,20],"format":"d","grid":false,"title":null,"labelFlush":false}}}},
   {"data":{"name":"db"},"mark":{"type":"line","interpolate":"step-after","color":"#3a3ae8","strokeWidth":1.2,"clip":true},
    "encoding":{
     "x":{"field":"t","type":"quantitative"},
     "y":{"field":"v","type":"quantitative","scale":{"domain":[0.5,2.5],"nice":false,"zero":false},"axis":{"orient":"left","values":[0.5,0.6,0.7,0.8,0.9,1,1.1,1.2,1.3,1.4,1.5,1.6,1.7,1.8,1.9,2,2.1,2.2,2.3,2.4,2.5],"tickCount":1000,"labelExpr":"abs(datum.value*2 - round(datum.value*2)) < 0.01 ? format(datum.value, '.1~f') : ''","tickOpacity":{"condition":{"test":"abs(datum.value*2 - round(datum.value*2)) < 0.01","value":1},"value":0},"grid":true,"gridColor":"#b8b8e2","title":"z-log(cov)","titleColor":"#3a3ae8","labelColor":"#3a3ae8","domainColor":"#3a3ae8","tickColor":"#3a3ae8","labelOverlap":false}}
    }},
   {"data":{"values":[{"v":1.3}]},"mark":{"type":"rule","color":"#3a3ae8","strokeWidth":2.5,"strokeDash":[8,3,3,3]},
    "encoding":{"y":{"field":"v","type":"quantitative"}}}
  ]},
  {"layer":[
   {"data":{"name":"dr"},"mark":{"type":"line","interpolate":"step-after","color":"#cf3f3f","strokeWidth":1.2,"clip":true},
    "encoding":{
     "x":{"field":"t","type":"quantitative"},
     "y":{"field":"v","type":"quantitative","scale":{"domain":[0.5,1],"nice":false,"zero":false},"axis":{"orient":"right","values":[0.5,0.6,0.7,0.8,0.9,1],"tickCount":1000,"format":".1~f","grid":false,"labelPadding":9,"title":"cov/var","titleAngle":270,"titlePadding":18,"titleColor":"#cf3f3f","labelColor":"#cf3f3f","domainColor":"#cf3f3f","tickColor":"#cf3f3f","labelOverlap":false}}
    }},
   {"data":{"values":[{"v":0.7}]},"mark":{"type":"rule","color":"#cf3f3f","strokeWidth":2.5,"strokeOpacity":0.8,"strokeDash":[8,3,3,3]},
    "encoding":{"y":{"field":"v","type":"quantitative"}}}
  ]}
 ],
 "resolve":{"scale":{"y":"independent"}}
},
{
 "title":{"text":"E","offset":-3},
 "width":1007,"height":122,
 "view":{"stroke":null},
 "layer":[
  {"data":{"name":"vg"},"mark":{"type":"rule","color":"#9a9ad6","strokeDash":[1,2],"strokeWidth":1},
   "encoding":{"x":{"field":"t","type":"quantitative","scale":{"domain":[0,23],"nice":false,"zero":false},"axis":{"values":[0,5,10,15,20],"format":"d","grid":false,"title":"Time(s)","titlePadding":3,"labelFlush":false}}}},
  {"data":{"name":"e"},"mark":{"type":"line","color":"#3a3ae8","strokeWidth":1.5,"clip":true},
   "encoding":{
    "x":{"field":"t","type":"quantitative"},
    "y":{"field":"v","type":"quantitative","scale":{"domain":[0,2],"nice":false,"zero":false},"axis":{"values":[0,0.5,1,1.5,2],"tickCount":1000,"format":".1~f","title":"log(ratio)","grid":false,"labelOverlap":false}}
   }},
  {"data":{"values":[{"v":0.9}]},"mark":{"type":"rule","color":"#cf3f3f","strokeWidth":1.2,"strokeDash":[7,3,2,3]},
   "encoding":{"y":{"field":"v","type":"quantitative"}}}
 ]
}
]
}
